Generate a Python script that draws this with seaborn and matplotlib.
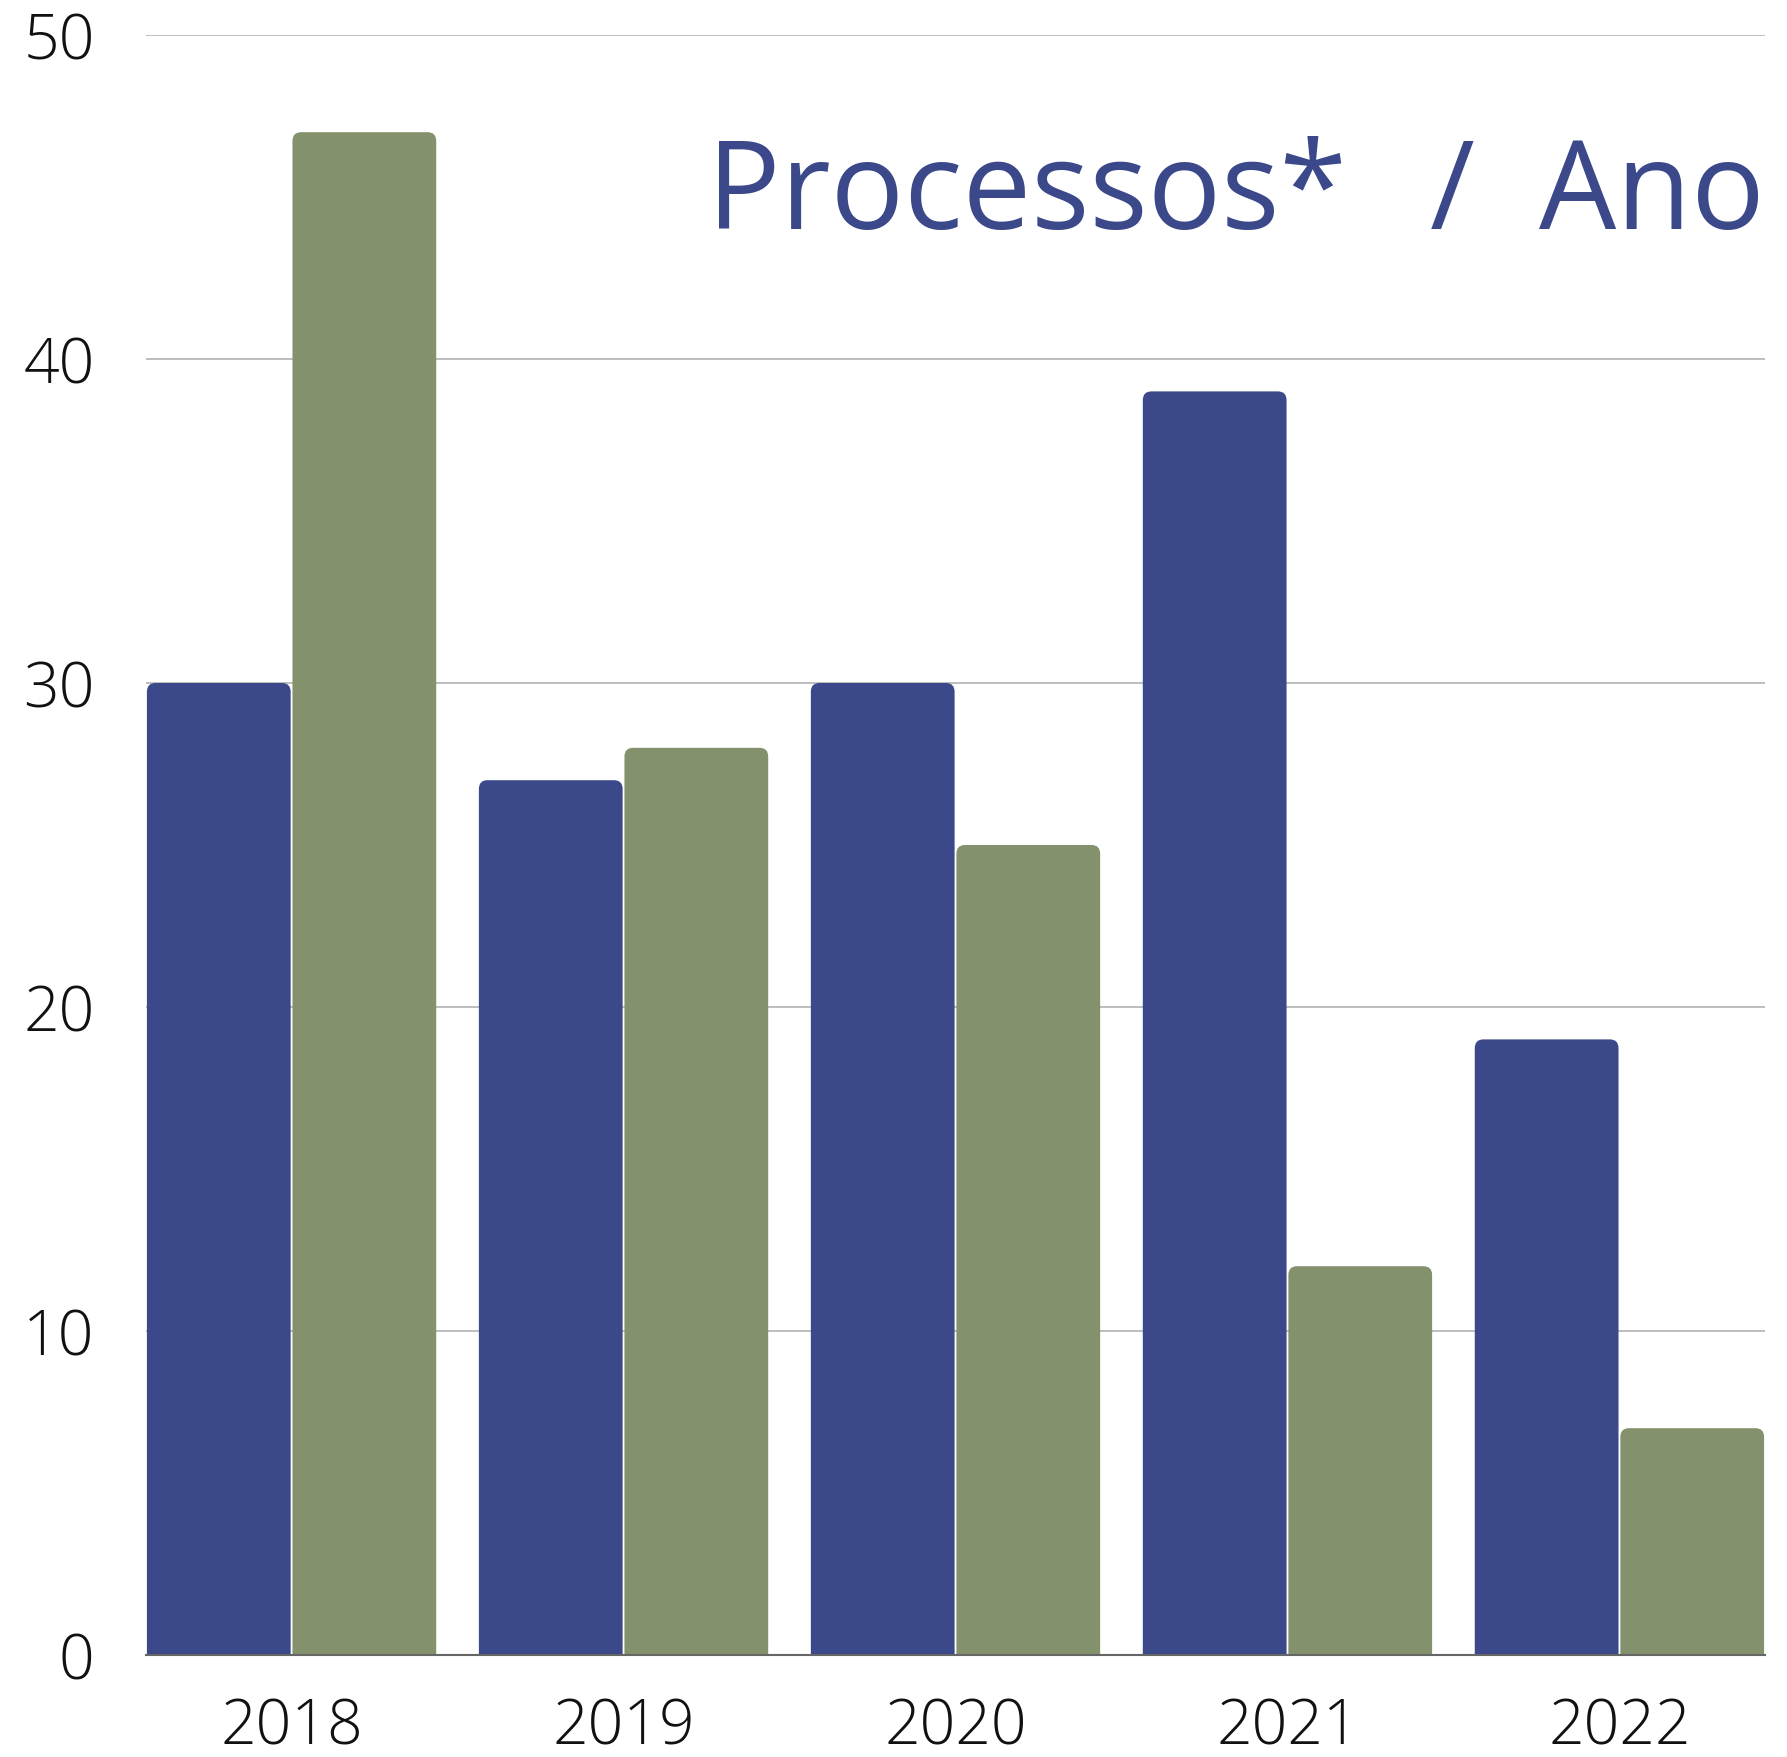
import matplotlib
matplotlib.use('Agg')
import matplotlib.pyplot as plt
from matplotlib.patches import FancyBboxPatch
import seaborn as sns
import pandas as pd

years = ["2018", "2019", "2020", "2021", "2022"]
serie_azul = [30, 27, 30, 39, 19]
serie_verde = [47, 28, 25, 12, 7]
series = ["Série 1", "Série 2"]
cores = ["#3b4889", "#83916c"]
y_ticks = [0, 10, 20, 30, 40, 50]

df = pd.DataFrame({
    "ano": years * 2,
    "valor": serie_azul + serie_verde,
    "serie": [series[0]] * len(years) + [series[1]] * len(years),
})

sns.set_style("white")
plt.rcParams['font.family'] = ['Open Sans', 'DejaVu Sans']

fig = plt.figure(figsize=(17.87, 17.57), dpi=100)
ax = fig.add_axes([146 / 1787, 1 - 1655 / 1757, (1765 - 146) / 1787, (1655 - 35) / 1757])

sns.barplot(data=df, x="ano", y="valor", hue="serie", palette=cores,
            saturation=1, width=0.877, gap=0.0125, legend=False, ax=ax, zorder=2)

# round the top corners of the bars
rx = 0.026
ry = 0.27
for p in list(ax.patches):
    x, w, h = p.get_x(), p.get_width(), p.get_height()
    fc = p.get_facecolor()
    p.remove()
    ax.add_patch(FancyBboxPatch((x, -ry * 2), w, h + ry * 2,
                                boxstyle=f"round,pad=0,rounding_size={rx}",
                                mutation_aspect=ry / rx, facecolor=fc,
                                edgecolor="none", zorder=2))

ax.set_xlim(-0.4385, 4.4385)
ax.set_ylim(0, 50)
ax.set_yticks(y_ticks)
ax.yaxis.grid(True, color="#bdbdbd", linewidth=1.4, zorder=0)
ax.set_axisbelow(True)
for s in ["left", "right", "top"]:
    ax.spines[s].set_visible(False)
ax.spines["bottom"].set_color("#666666")
ax.spines["bottom"].set_linewidth(1.5)
ax.spines["bottom"].set_zorder(3)
ax.tick_params(axis="both", length=0, labelsize=45, colors="#111111")
ax.tick_params(axis="y", pad=37)
ax.tick_params(axis="x", pad=30)
for lab in ax.get_xticklabels() + ax.get_yticklabels():
    lab.set_fontweight("light")
ax.set_xlabel("")
ax.set_ylabel("")

# title, placed word by word to follow the wide spacing of the original
titulo = ["Processos*", "/", "Ano"]
titulo_x = [707, 1430, 1539]
for palavra, px in zip(titulo, titulo_x):
    fig.text(px / 1787, 1 - 229 / 1757, palavra, fontsize=88,
             color="#3b4889", ha="left", va="baseline")

fig.savefig("out.png", dpi=100, facecolor="white")
plt.close()
